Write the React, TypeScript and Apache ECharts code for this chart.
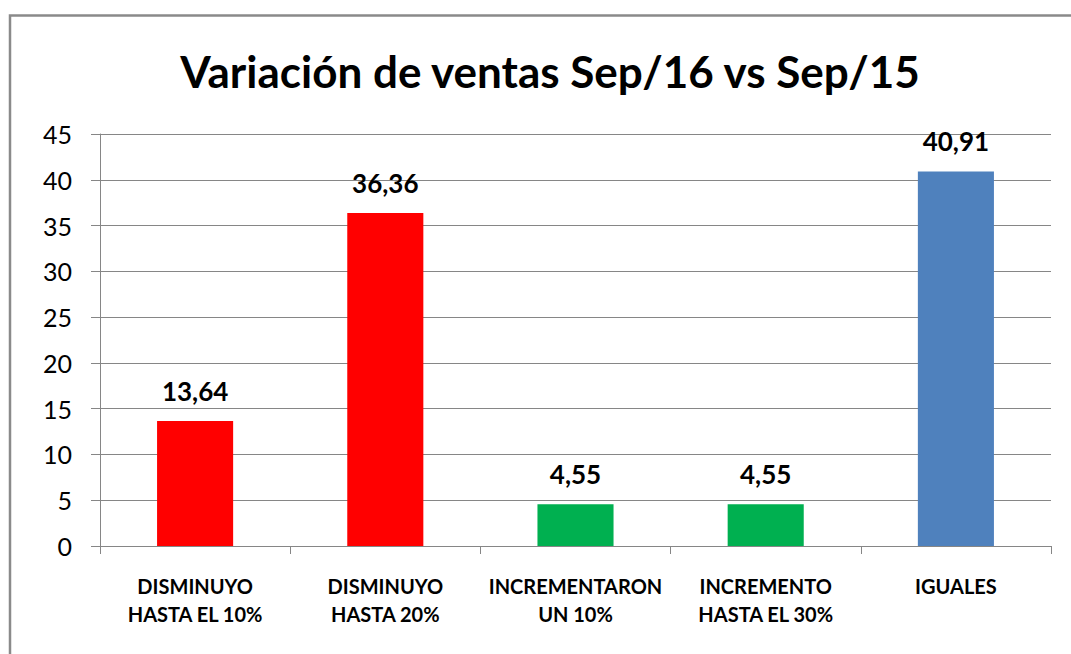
import React, { useEffect, useRef } from "react";
import * as echarts from "echarts";

const titleText = "Variación de ventas Sep/16 vs Sep/15";
const categories = [
  "DISMINUYO\nHASTA EL 10%",
  "DISMINUYO\nHASTA 20%",
  "INCREMENTARON\nUN 10%",
  "INCREMENTO\nHASTA EL 30%",
  "IGUALES",
];
const values = [13.64, 36.36, 4.55, 4.55, 40.91];
const barColors = ["#FF0000", "#FF0000", "#00B050", "#00B050", "#4F81BD"];
const yMin = 0;
const yMax = 45;
const yInterval = 5;

const FONT = "Lato, 'Open Sans', sans-serif";

export default function App() {
  const ref = useRef<HTMLDivElement>(null);
  useEffect(() => {
    if (!ref.current) return;
    const chart = echarts.init(ref.current, null, { renderer: "svg" });
    chart.setOption({
      animation: false,
      backgroundColor: "#ffffff",
      title: {
        text: titleText,
        left: 545,
        textAlign: "center",
        top: 44,
        textStyle: { fontFamily: FONT, fontWeight: "bold", fontSize: 44, color: "#000" },
      },
      graphic: [
        {
          type: "rect",
          shape: { x: 10, y: 15.5, width: 1100, height: 700 },
          style: { fill: "none", stroke: "#8a8a8a", lineWidth: 2.5 },
          silent: true,
          z: 100,
        },
      ],
      grid: { left: 100, right: 20, top: 134, bottom: 108, containLabel: false },
      xAxis: {
        type: "category",
        data: categories,
        axisLine: { lineStyle: { color: "#868686", width: 1 } },
        axisTick: { show: true, alignWithLabel: false, length: 8, lineStyle: { color: "#868686" } },
        axisLabel: {
          interval: 0,
          margin: 26,
          fontFamily: FONT,
          fontWeight: "bold",
          fontSize: 20,
          lineHeight: 28,
          color: "#000",
        },
        splitLine: { show: false },
      },
      yAxis: {
        type: "value",
        min: yMin,
        max: yMax,
        interval: yInterval,
        axisLine: { show: true, lineStyle: { color: "#868686", width: 1 } },
        axisTick: { show: true, inside: false, length: 9, lineStyle: { color: "#868686" } },
        axisLabel: { margin: 28, fontFamily: FONT, fontSize: 25, color: "#000" },
        splitLine: { show: true, lineStyle: { color: "#868686", width: 1 } },
      },
      series: [
        {
          type: "bar",
          barWidth: "40%",
          data: values.map((v, i) => ({ value: v, itemStyle: { color: barColors[i] } })),
          label: {
            show: true,
            position: "top",
            distance: 17,
            fontFamily: FONT,
            fontWeight: "bold",
            fontSize: 26,
            color: "#000",
            formatter: (p: any) => p.value.toFixed(2).replace(".", ","),
          },
        },
      ],
    });
    return () => chart.dispose();
  }, []);
  return (
    <div
      ref={ref}
      style={{ position: "fixed", left: 0, top: 0, width: 1071, height: 654 }}
    />
  );
}
